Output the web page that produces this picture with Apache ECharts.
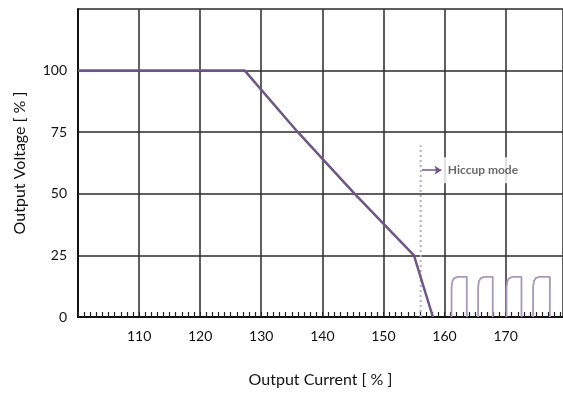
<!DOCTYPE html>
<html>
<head>
<meta charset="utf-8">
<script src="https://cdn.jsdelivr.net/npm/echarts@6/dist/echarts.min.js"></script>
<style>
  html, body { margin: 0; padding: 0; background: #fff; }
  #chart { width: 563px; height: 394px; }
</style>
</head>
<body>
<div id="chart"></div>
<script>
// output current [%] vs output voltage [%]
const foldback = [[100, 100], [127.3, 100], [136, 75], [145.3, 50], [155, 25], [158.1, 0]]

// hiccup pulses
const pulse1 = [[161.15, 0], [161.15, 12], [161.3, 14.6], [161.6, 15.8], [162.15, 16.3], [163.65, 16.3], [163.65, 0]]
const pulse2 = [[165.5, 0], [165.5, 12], [165.65, 14.6], [165.95, 15.8], [166.5, 16.3], [167.9, 16.3], [167.9, 0]]
const pulse3 = [[170.15, 0], [170.15, 12], [170.3, 14.6], [170.6, 15.8], [171.15, 16.3], [172.6, 16.3], [172.6, 0]]
const pulse4 = [[174.5, 0], [174.5, 12], [174.65, 14.6], [174.95, 15.8], [175.5, 16.3], [177.25, 16.3], [177.25, 0]]
const pulses = [pulse1, pulse2, pulse3, pulse4]

const hiccupLine = [[156.1, 0], [156.1, 69.7]]
const arrowFrom = [156.3, 59.6]
const arrowTo = [159.5, 59.6]
const hiccupLabel = [[159.55, 59.6]]

const font = 'Lato, "Open Sans", sans-serif'
const purple = '#6e5687'

const chart = echarts.init(document.getElementById('chart'))

const series = [
  {
    type: 'line',
    data: foldback,
    showSymbol: false,
    lineStyle: { color: purple, width: 2.5 },
    z: 5
  },
  {
    type: 'line',
    data: hiccupLine,
    showSymbol: false,
    lineStyle: { color: '#b5aec4', width: 2, type: [2, 3] },
    markLine: {
      silent: true,
      symbol: ['none', 'arrow'],
      symbolSize: 7,
      label: { show: false },
      lineStyle: { color: purple, width: 1.5, type: 'solid' },
      data: [[{ coord: arrowFrom }, { coord: arrowTo }]]
    }
  },
  {
    type: 'scatter',
    data: hiccupLabel,
    symbolSize: 0,
    silent: true,
    z: 6,
    label: {
      show: true,
      position: 'right',
      distance: 0,
      formatter: 'Hiccup mode',
      backgroundColor: '#fff',
      padding: [7, 3, 7, 6],
      fontFamily: font,
      fontSize: 12,
      fontWeight: 'bold',
      color: '#444'
    }
  }
]

pulses.forEach(p => {
  series.push({
    type: 'line',
    data: p,
    showSymbol: false,
    lineStyle: { color: '#a898bb', width: 1.8 }
  })
})

chart.setOption({
  animation: false,
  backgroundColor: '#fff',
  grid: { left: 78, right: 0, top: 9, bottom: 77 },
  xAxis: {
    type: 'value',
    min: 100,
    max: 179.4,
    interval: 10,
    name: 'Output Current [ % ]',
    nameLocation: 'middle',
    nameGap: 55,
    nameTextStyle: { fontFamily: font, fontSize: 16, color: '#111' },
    axisLine: { show: true, lineStyle: { color: '#111', width: 2 } },
    axisTick: { show: true, inside: true, length: 5, lineStyle: { color: '#222' } },
    minorTick: { show: true, splitNumber: 10, length: 5, lineStyle: { color: '#222', width: 1.2 } },
    axisLabel: {
      showMinLabel: false,
      showMaxLabel: false,
      margin: 12,
      fontFamily: font,
      fontSize: 14,
      color: '#111'
    },
    splitLine: { show: true, lineStyle: { color: '#2a2a2a', width: 1.5 } }
  },
  yAxis: {
    type: 'value',
    min: 0,
    max: 125,
    interval: 25,
    name: 'Output Voltage [ % ]',
    nameLocation: 'middle',
    nameGap: 50,
    nameTextStyle: { fontFamily: font, fontSize: 16, color: '#111' },
    axisLine: { show: true, lineStyle: { color: '#111', width: 2 } },
    axisTick: { show: false },
    axisLabel: {
      showMaxLabel: false,
      margin: 11,
      fontFamily: font,
      fontSize: 14,
      color: '#111'
    },
    splitLine: { show: true, lineStyle: { color: '#2a2a2a', width: 1.5 } }
  },
  series: series
})
</script>
</body>
</html>
